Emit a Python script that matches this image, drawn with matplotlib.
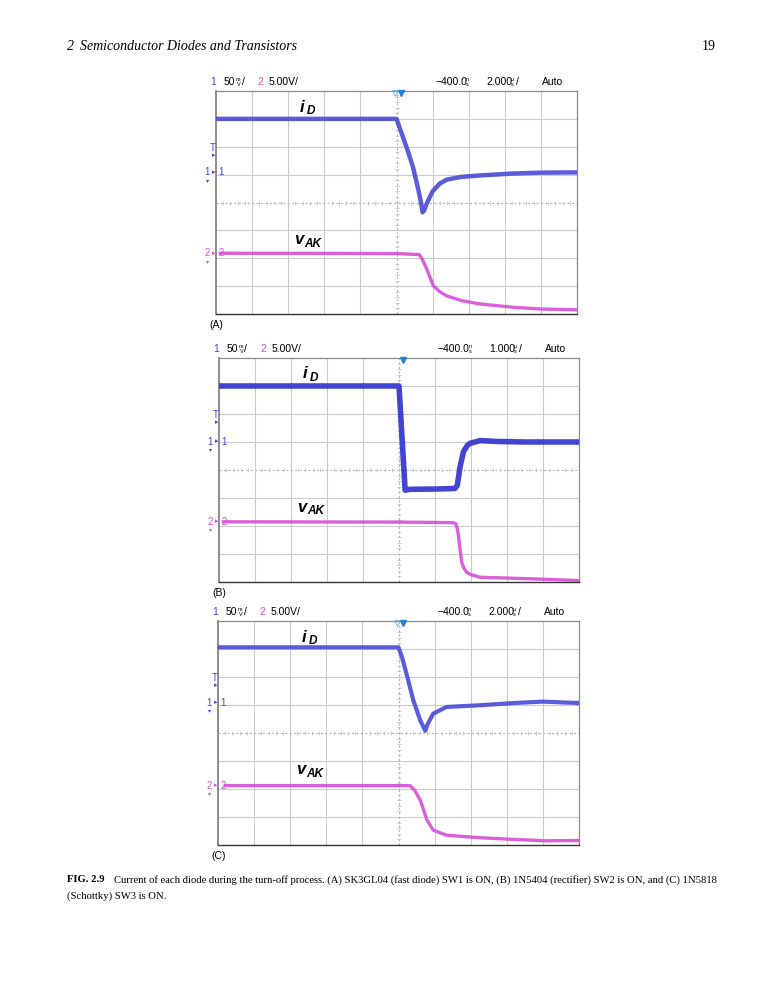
import numpy as np
import matplotlib
matplotlib.use("Agg")
import matplotlib.pyplot as plt

# ---------------- data (divisions: x 0..10, y -4..4) ----------------
panel_labels = ["(A)", "(B)", "(C)"]
time_scales = ["2.000", "1.000", "2.000"]

a_iD_t = [0.0, 5.0, 5.15, 5.3, 5.45, 5.58, 5.68, 5.72, 5.76, 5.85, 6.0, 6.2, 6.39, 6.8, 7.31, 8.23, 9.0, 10.0]
a_iD_v = [3.0, 3.0, 2.45, 1.9, 1.3, 0.6, 0.0, -0.35, -0.3, 0.0, 0.4, 0.68, 0.82, 0.92, 0.97, 1.04, 1.07, 1.08]
a_vAK_t = [0.12, 5.0, 5.63, 5.7, 5.84, 6.02, 6.2, 6.39, 6.8, 7.31, 8.24, 9.0, 10.0]
a_vAK_v = [-1.82, -1.83, -1.87, -2.0, -2.39, -2.99, -3.2, -3.35, -3.52, -3.64, -3.76, -3.82, -3.85]

b_iD_t = [0.0, 5.0, 5.17, 5.3, 6.0, 6.55, 6.62, 6.69, 6.79, 6.9, 6.97, 7.25, 7.71, 8.5, 10.0]
b_iD_v = [3.0, 3.0, -0.72, -0.69, -0.68, -0.66, -0.55, 0.07, 0.65, 0.88, 0.95, 1.05, 1.02, 1.0, 1.0]
b_vAK_t = [0.12, 5.0, 6.5, 6.58, 6.62, 6.65, 6.74, 6.8, 6.88, 7.0, 7.25, 8.0, 9.0, 10.0]
b_vAK_v = [-1.85, -1.86, -1.88, -1.92, -2.1, -2.33, -3.29, -3.5, -3.65, -3.74, -3.83, -3.86, -3.9, -3.95]

c_iD_t = [0.0, 5.0, 5.1, 5.22, 5.41, 5.6, 5.74, 5.8, 5.96, 6.33, 7.25, 8.18, 9.0, 10.0]
c_iD_v = [3.06, 3.06, 2.7, 2.12, 1.17, 0.46, 0.08, 0.3, 0.69, 0.93, 0.99, 1.07, 1.12, 1.07]
c_vAK_t = [0.2, 5.0, 5.32, 5.45, 5.6, 5.79, 5.96, 6.33, 7.25, 8.18, 9.1, 10.0]
c_vAK_v = [-1.88, -1.88, -1.88, -2.05, -2.39, -3.11, -3.47, -3.65, -3.74, -3.8, -3.85, -3.84]

iD_marker_level = [1.08, 1.0, 1.07]
vAK_marker_level = [-1.82, -1.85, -1.88]

panels = [
    (a_iD_t, a_iD_v, a_vAK_t, a_vAK_v),
    (b_iD_t, b_iD_v, b_vAK_t, b_vAK_v),
    (c_iD_t, c_iD_v, c_vAK_t, c_vAK_v),
]
# pixel boxes (left, top, right, bottom)
boxes = [(216, 91, 577, 314), (219, 358, 579, 582), (218, 621, 579, 845)]
iD_colors = ["#4a4ad8", "#2f2fd0", "#4a4ad8"]
iD_widths = [3.2, 4.0, 3.0]

W, H = 781, 1000
fig = plt.figure(figsize=(W / 100, H / 100), dpi=100)
fig.patch.set_facecolor("white")

BLUE = "#4545d6"
MAG = "#d64fd6"
SANS = ["Liberation Sans", "DejaVu Sans"]
SERIF = "Liberation Serif"


def P(x, y):
    return (x / W, 1 - y / H)


def ftext(x, y, s, **kw):
    fig.text(*P(x, y), s, **kw)


for k, ((it, iv, vt, vv), (l, t, r, b)) in enumerate(zip(panels, boxes)):
    ax = fig.add_axes([l / W, 1 - b / H, (r - l) / W, (b - t) / H])
    ax.set_xlim(0, 10)
    ax.set_ylim(-4, 4)
    ax.set_xticks([])
    ax.set_yticks([])
    for x in range(1, 10):
        if x != 5:
            ax.axvline(x, color="#cbcbcb", lw=0.8, zorder=1)
    for y in range(-3, 4):
        if y != 0:
            ax.axhline(y, color="#cbcbcb", lw=0.8, zorder=1)
    ax.axvline(5, color="#b4b4b4", lw=0.8, ls=(0, (2, 2)), zorder=1)
    ax.axhline(0, color="#b4b4b4", lw=0.8, ls=(0, (2, 2)), zorder=1)
    mt = np.arange(0.2, 10, 0.2)
    ax.plot(mt, np.zeros_like(mt), ls="none", marker="|", ms=3, color="#c4c4c4", mew=0.6, zorder=1)
    my = np.arange(-3.8, 4, 0.2)
    ax.plot(np.full_like(my, 5.0), my, ls="none", marker="_", ms=3, color="#c4c4c4", mew=0.6, zorder=1)
    for side in ["top", "right"]:
        ax.spines[side].set_color("#8a8a8a")
        ax.spines[side].set_linewidth(0.9)
    ax.spines["left"].set_color("#6f6f6f")
    ax.spines["left"].set_linewidth(1.1)
    ax.spines["bottom"].set_color("#333333")
    ax.spines["bottom"].set_linewidth(1.0)

    ax.plot(it, iv, color=iD_colors[k], lw=iD_widths[k], alpha=0.9, zorder=4)
    ax.plot(vt, vv, color=MAG, lw=2.4, alpha=0.9, zorder=3)

    # trigger marker
    ax.plot([5.12], [3.93], marker="v", ms=5, color="#2a7fd4", clip_on=False, zorder=6)
    if k != 1:
        ax.plot([4.95], [3.93], marker="v", ms=5, mfc="none", mec="#70b0e0", mew=0.6, clip_on=False, zorder=6)

    # header line
    hy = t - 9
    ftext(l - 6, hy, "1", color=BLUE, fontsize=7.5, family=SANS, va="center")
    ftext(l + 8, hy, "50", color="black", fontsize=7.5, family=SANS, va="center")
    ftext(l + 20, hy - 2.5, "m", color="black", fontsize=4, family=SANS, va="center")
    ftext(l + 20.5, hy + 2.5, "V", color="black", fontsize=4, family=SANS, va="center")
    ftext(l + 25.5, hy, "/", color="black", fontsize=7.5, family=SANS, va="center")
    ftext(l + 41, hy, "2", color=MAG, fontsize=7.5, family=SANS, va="center")
    ftext(l + 53, hy, "5.00V/", color="black", fontsize=7.5, family=SANS, va="center")
    ftext(l + 219, hy, "\u2212400.0", color="black", fontsize=7.5, family=SANS, va="center")
    ftext(l + 250, hy - 2.5, "n", color="black", fontsize=4, family=SANS, va="center")
    ftext(l + 250, hy + 2.5, "s", color="black", fontsize=4, family=SANS, va="center")
    ftext(l + 270, hy, time_scales[k], color="black", fontsize=7.5, family=SANS, va="center")
    ftext(l + 295, hy - 2.5, "\u00b5", color="black", fontsize=4, family=SANS, va="center")
    ftext(l + 295, hy + 2.5, "s", color="black", fontsize=4, family=SANS, va="center")
    ftext(l + 300, hy, "/", color="black", fontsize=7.5, family=SANS, va="center")
    ftext(l + 326, hy, "Auto", color="black", fontsize=7.5, family=SANS, va="center")

    # labels
    divh = (b - t) / 8.0
    ftext(l + 84, t + 16, "i", fontsize=12, family=SANS, fontweight="bold", style="italic", va="center")
    ftext(l + 91, t + 20, "D", fontsize=8.5, family=SANS, fontweight="bold", style="italic", va="center")
    ftext(l + 78, t + 149, "v", fontsize=12, family=SANS, fontweight="bold", style="italic", va="center")
    ftext(l + 88, t + 153, "AK", fontsize=8.5, family=SANS, fontweight="bold", style="italic", va="center")

    # left channel markers
    y1 = t + (4 - iD_marker_level[k]) * divh
    y2 = t + (4 - vAK_marker_level[k]) * divh
    yT = t + (4 - 1.9) * divh
    ftext(l - 3, yT - 2, "T", color=BLUE, fontsize=7, family=SANS, va="center", ha="center")
    ftext(l - 2, yT + 6, "\u25b8", color=BLUE, fontsize=5, family=SANS, va="center", ha="center")
    ftext(l - 9, y1, "1", color=BLUE, fontsize=7, family=SANS, va="center", ha="center")
    ftext(l - 2, y1, "\u25b8", color=BLUE, fontsize=5, family=SANS, va="center", ha="center")
    ftext(l - 8, y1 + 8, "\u25be", color=BLUE, fontsize=4.5, family=SANS, va="center", ha="center")
    ftext(l + 5, y1, "1", color=BLUE, fontsize=7, family=SANS, va="center", ha="center")
    ftext(l - 9, y2, "2", color=MAG, fontsize=7, family=SANS, va="center", ha="center")
    ftext(l - 2, y2, "\u25b8", color=MAG, fontsize=5, family=SANS, va="center", ha="center")
    ftext(l - 8, y2 + 8, "\u25be", color=MAG, fontsize=4.5, family=SANS, va="center", ha="center")
    ftext(l + 5, y2, "2", color=MAG, fontsize=7, family=SANS, va="center", ha="center")

    ftext(l - 7, b + 11, panel_labels[k], fontsize=7.5, family=SANS, va="center")

# page header
ftext(67, 47, "2", fontsize=10, family=SERIF, style="italic", va="center")
ftext(80, 47, "Semiconductor Diodes and Transistors", fontsize=10, family=SERIF, style="italic", va="center")
ftext(702, 47, "19", fontsize=10, family=SERIF, va="center")

# caption
ftext(67, 880, "FIG. 2.9", fontsize=7.6, family=SERIF, fontweight="bold", va="center")
ftext(114, 880, "Current of each diode during the turn-off process. (A) SK3GL04 (fast diode) SW1 is ON, (B) 1N5404 (rectifier) SW2 is ON, and (C) 1N5818",
      fontsize=7.7, family=SERIF, va="center")
ftext(67, 896, "(Schottky) SW3 is ON.", fontsize=7.7, family=SERIF, va="center")

fig.savefig("out.png", dpi=100, facecolor="white")
